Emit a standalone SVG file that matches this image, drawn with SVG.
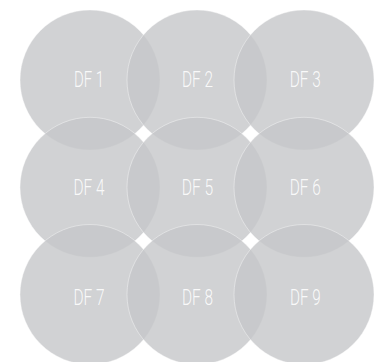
<svg xmlns="http://www.w3.org/2000/svg" width="374" height="362" viewBox="0 0 374 362">
<style>
.c{fill:rgb(198,199,201);fill-opacity:0.8;stroke:#ffffff;stroke-opacity:0.5;stroke-width:0.8}
.t{font-family:Roboto,"Liberation Sans",sans-serif;font-weight:300;font-size:22px;fill:#ffffff;fill-opacity:0.9;text-anchor:middle}
</style>
<rect width="374" height="362" fill="#ffffff"/>
<g id="connectors"></g>
<g id="df1"><circle class="c" cx="90" cy="80" r="70"/><text class="t" x="89" y="87.3" textLength="30" lengthAdjust="spacingAndGlyphs">DF 1</text></g>
<g id="df2"><circle class="c" cx="197" cy="80" r="70"/><text class="t" x="197.5" y="87.3" textLength="31" lengthAdjust="spacingAndGlyphs">DF 2</text></g>
<g id="df3"><circle class="c" cx="304" cy="80" r="70"/><text class="t" x="305.3" y="87.3" textLength="31" lengthAdjust="spacingAndGlyphs">DF 3</text></g>
<g id="df4"><circle class="c" cx="90" cy="187.3" r="70"/><text class="t" x="89" y="195" textLength="31" lengthAdjust="spacingAndGlyphs">DF 4</text></g>
<g id="df5"><circle class="c" cx="197" cy="187.3" r="70"/><text class="t" x="197.5" y="195" textLength="31.5" lengthAdjust="spacingAndGlyphs">DF 5</text></g>
<g id="df6"><circle class="c" cx="304" cy="187.3" r="70"/><text class="t" x="305.3" y="195" textLength="31" lengthAdjust="spacingAndGlyphs">DF 6</text></g>
<g id="df7"><circle class="c" cx="90" cy="294.5" r="70"/><text class="t" x="89" y="304.8" textLength="31" lengthAdjust="spacingAndGlyphs">DF 7</text></g>
<g id="df8"><circle class="c" cx="197" cy="294.5" r="70"/><text class="t" x="197.5" y="304.8" textLength="31" lengthAdjust="spacingAndGlyphs">DF 8</text></g>
<g id="df9"><circle class="c" cx="304" cy="294.5" r="70"/><text class="t" x="305.3" y="304.8" textLength="30.7" lengthAdjust="spacingAndGlyphs">DF 9</text></g>
</svg>
